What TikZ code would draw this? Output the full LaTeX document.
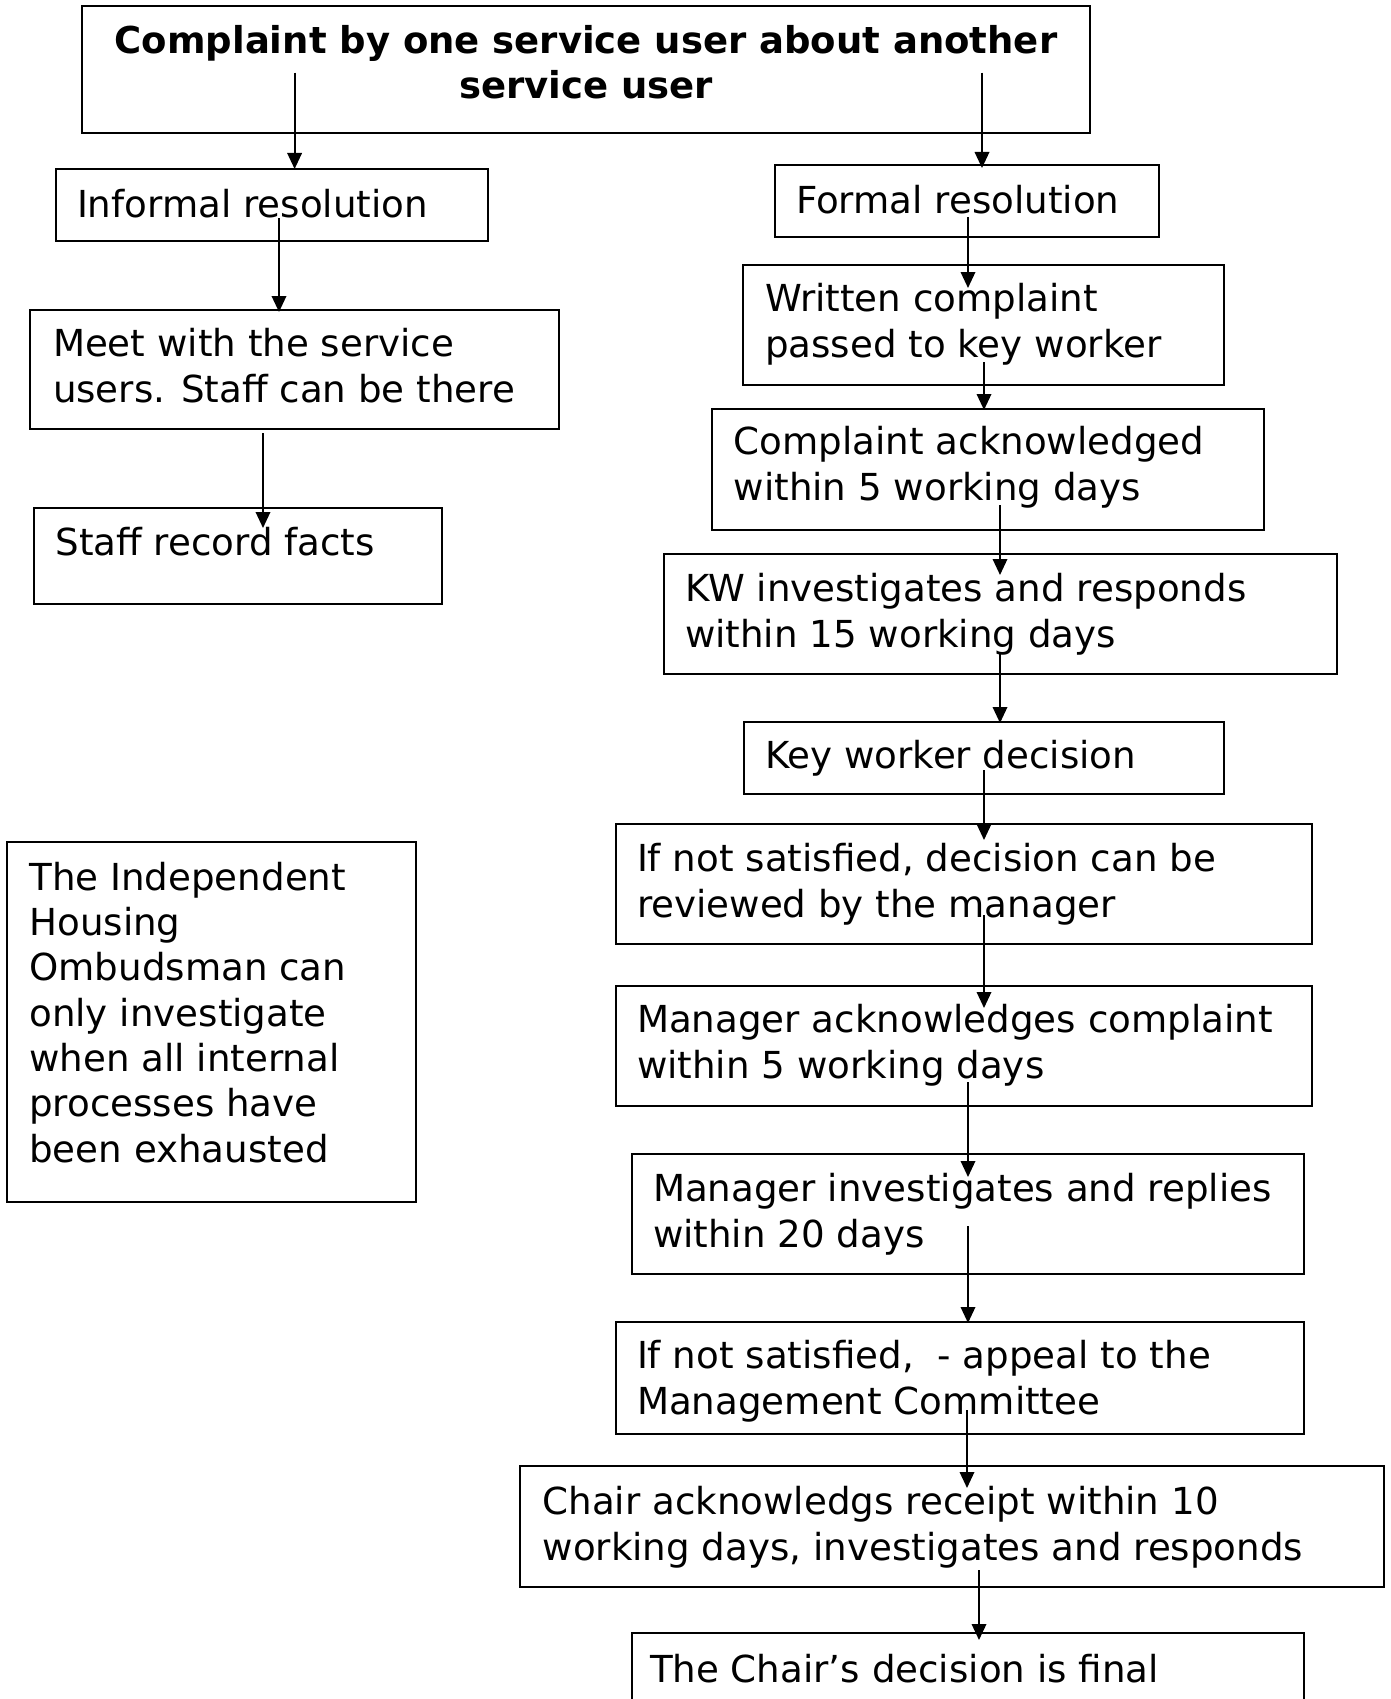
\documentclass[tikz,border=0pt]{standalone}
\usepackage{fontspec}
\setmainfont{DejaVu Sans}
\usetikzlibrary{arrows.meta}
\tikzset{
  box/.style={draw=black, line width=2pt, inner sep=0pt, outer sep=0pt, anchor=north west},
  txt/.style={inner sep=0pt, outer sep=0pt, anchor=base west, align=left,
     font=\fontsize{37.2}{45.3}\selectfont},
  ttl/.style={inner sep=0pt, outer sep=0pt, anchor=base, align=center,
     font=\fontsize{37}{45.3}\selectfont\bfseries},
  arr/.style={line width=1.9pt, -{Triangle[length=16pt,width=14.5pt]}},
}
\newcommand{\mybox}[5]{\node[box, minimum width={#4-#2}, minimum height={#5-#3}] (#1) at (#2,#3) {};}
\begin{document}
\begin{tikzpicture}[x=1pt,y=-1pt]
\useasboundingbox (0,0) rectangle (1391,1699);
% boxes
\mybox{top}{82}{6}{1090}{133}
\mybox{inf}{55.5}{169}{488}{241}
\mybox{form}{775}{165}{1159}{237}
\mybox{meet}{30}{310}{559}{429}
\mybox{staff}{34}{508}{442}{604}
\mybox{writ}{743}{265}{1224}{385}
\mybox{ack}{711.5}{409}{1264}{530}
\mybox{kw}{664}{554}{1337}{674}
\mybox{key}{743.5}{722}{1224}{794}
\mybox{ifa}{616}{824}{1312}{944}
\mybox{mgr}{616}{986}{1312}{1106}
\mybox{inv}{632}{1154}{1304}{1274}
\mybox{ifb}{616}{1322}{1304}{1434}
\mybox{chair}{520}{1466}{1384}{1587}
\mybox{final}{632}{1633}{1304}{1710}
\mybox{omb}{6.7}{842}{416}{1202}
% texts (anchor = baseline of the last line)
\node[ttl] (top-t) at (586,99) {Complaint by one service user about another\\service user};
\node[txt] (inf-t) at (77,217) {Informal resolution};
\node[txt] (form-t) at (796,213) {Formal resolution};
\node[txt] (meet-t) at (53,402) {Meet with the service\\users. Staff can be there};
\node[txt] (staff-t) at (55.5,555) {Staff record facts};
\node[txt] (writ-t) at (765,357) {Written complaint\\passed to key worker};
\node[txt] (ack-t) at (733.7,500) {Complaint acknowledged\\within 5 working days};
\node[txt] (kw-t) at (685,647) {KW investigates and responds\\within 15 working days};
\node[txt] (key-t) at (765,768) {Key worker decision};
\node[txt] (ifa-t) at (637,917) {If not satisfied, decision can be\\reviewed by the manager};
\node[txt] (mgr-t) at (637,1078) {Manager acknowledges complaint\\within 5 working days};
\node[txt] (inv-t) at (653,1247) {Manager investigates and replies\\within 20 days};
\node[txt] (ifb-t) at (637,1414) {If not satisfied,~ - appeal to the\\Management Committee};
\node[txt] (chair-t) at (542.6,1560) {Chair acknowledgs receipt within 10\\working days, investigates and responds};
\node[txt] (final-t) at (650,1682) {The Chair’s decision is final};
\node[txt] (omb-t) at (29.3,1162) {The Independent\\Housing\\Ombudsman can\\only investigate\\when all internal\\processes have\\been exhausted};
% connector ends
\coordinate (s1) at (294.6,72.7);  \coordinate (e1) at (294.6,169);
\coordinate (s2) at (982,72.7);    \coordinate (e2) at (982,168);
\coordinate (s3) at (279,218);     \coordinate (e3) at (279,312);
\coordinate (s4) at (263,433);     \coordinate (e4) at (263,528);
\coordinate (s5) at (968,217);     \coordinate (e5) at (968,288);
\coordinate (s6) at (984,362);     \coordinate (e6) at (984,410);
\coordinate (s7) at (1000,505);    \coordinate (e7) at (1000,575);
\coordinate (s8) at (1000,653);    \coordinate (e8) at (1000,723);
\coordinate (s9) at (984,770);     \coordinate (e9) at (984,840);
\coordinate (s10) at (984,915);    \coordinate (e10) at (984,1008);
\coordinate (s11) at (968,1082);   \coordinate (e11) at (968,1177);
\coordinate (s12) at (968,1226);   \coordinate (e12) at (968,1323);
\coordinate (s13) at (967,1410);   \coordinate (e13) at (967,1488);
\coordinate (s14) at (979,1570);   \coordinate (e14) at (979,1640);
\foreach \i in {1,...,14} { \draw[arr] (s\i) -- (e\i); }
\end{tikzpicture}
\end{document}
